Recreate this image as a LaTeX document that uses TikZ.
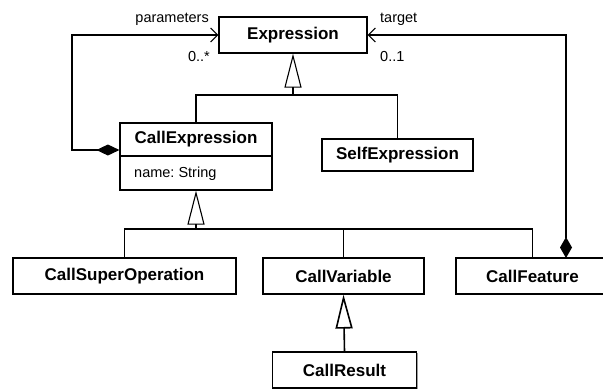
\documentclass[tikz,border=0pt]{standalone}
\usepackage{fontspec}
\setmainfont{Liberation Sans}
\usetikzlibrary{arrows.meta,shadows}
\frenchspacing
\begin{document}
\begin{tikzpicture}[x=1pt,y=-1pt,
  cls/.style={draw, line width=1.2pt, fill=white, inner sep=0pt,
    drop shadow={shadow xshift=1.2pt,shadow yshift=-1.2pt,fill=black!55,opacity=0.7},
    font=\fontsize{17}{20}\selectfont\bfseries},
  boldtxt/.style={inner sep=0pt, font=\fontsize{17}{20}\selectfont\bfseries},
  lbl/.style={inner sep=0pt, font=\fontsize{14.5}{17}\selectfont},
  conn/.style={line width=1.1pt},
  gen/.style={conn, -{Triangle[open, length=34pt, width=17pt]}},
  comp/.style={conn, {Diamond[length=23pt,width=11pt]}-{Straight Barb[length=7pt,width=14pt]}},
  compb/.style={conn, {Diamond[length=21pt,width=12pt]}-{Straight Barb[length=7pt,width=14pt]}}
]
\useasboundingbox (0,0) rectangle (603,389);

% classes
\node[cls, minimum width=148, minimum height=36] (Expression) at (293,35) {Expression};
\node[cls, minimum width=152, minimum height=67] (CallExpression) at (196,156.5) {};
\node[boldtxt] (cetitle) at (196,139.5) {CallExpression};
\node[lbl, anchor=west] (ceattr) at (134,174) {name: String};
\draw[line width=2pt] (CallExpression.west |- 0,156) -- (CallExpression.east |- 0,156);
\node[cls, minimum width=151, minimum height=32] (SelfExpression) at (397.5,155) {SelfExpression};
\node[cls, minimum width=223, minimum height=36] (CallSuperOperation) at (124.5,276) {CallSuperOperation};
\node[cls, minimum width=161, minimum height=36] (CallVariable) at (343.5,276) {CallVariable};
\node[cls, minimum width=153, minimum height=36] (CallFeature) at (532.5,276) {CallFeature};
\node[cls, minimum width=144, minimum height=36] (CallResult) at (344.5,370) {CallResult};

% generalizations
\coordinate (g1) at (293,95);
\draw[gen] (g1) -- (Expression.south);
\draw[conn] (CallExpression.north) |- (g1) -| (SelfExpression.north);

\coordinate (g2) at (196,229);
\draw[gen] (g2) -- (CallExpression.south);
\draw[conn] (CallSuperOperation.north) |- (g2) -| (CallFeature.north);
\draw[conn] (g2 -| CallVariable.north) -- (CallVariable.north);

\draw[gen, line width=1.6pt] (CallResult.north) -- (CallVariable.south);

% compositions
\coordinate (pc) at (72,150);
\draw[comp] (CallExpression.west |- pc) -- (pc) |- (Expression.west);
\coordinate (tc) at (566,258);
\draw[compb] (tc) |- (Expression.east);

% labels
\node[lbl, anchor=base east] (lparam) at (209,22) {parameters};
\node[lbl, anchor=base east] (mparam) at (210,61) {0..*};
\node[lbl, anchor=base west] (ltarget) at (380,22) {target};
\node[lbl, anchor=base west] (mtarget) at (380,61) {0..1};
\end{tikzpicture}
\end{document}
